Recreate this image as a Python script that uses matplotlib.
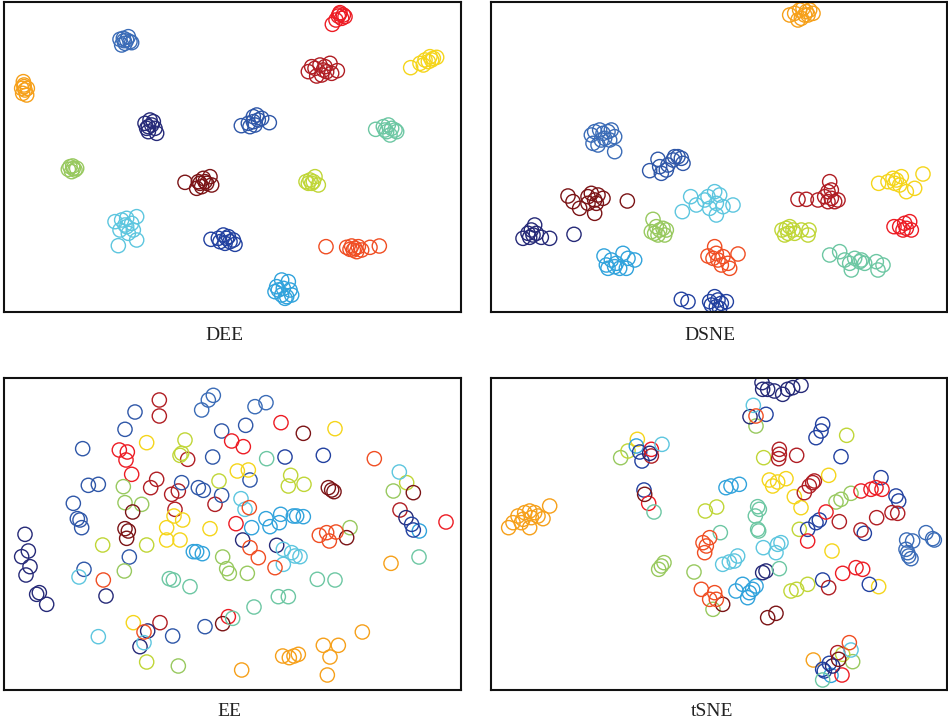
import matplotlib
matplotlib.use("Agg")
import matplotlib.pyplot as plt

# cluster colours (15 classes)
colors = {
    "red": "#ED1C24", "steel": "#3B6CB7", "crimson": "#B01E24", "yellow": "#F5D51B",
    "orange": "#F6A01A", "navy": "#262A78", "blue": "#2F57A8", "teal": "#6DC7A3",
    "lgreen": "#98C95F", "maroon": "#7B1416", "ygreen": "#C0D637", "cyan": "#5DC6DF",
    "royal": "#2241A0", "ored": "#F04E23", "sky": "#31A3DC",
}

# embedding coordinates (arbitrary units, y downwards)
dee = [
    ("red", [(1020, 38), (1030, 45), (1015, 48), (1025, 55), (1008, 60), (997, 73), (1018, 42), (1035, 50)]),
    ("steel", [(370, 115), (380, 120), (360, 118), (390, 125), (375, 130), (365, 135), (385, 110), (395, 128), (372, 122)]),
    ("crimson", [(925, 215), (945, 205), (960, 195), (975, 200), (990, 190), (1012, 212), (965, 225), (950, 228),
                 (980, 215), (935, 200), (970, 210), (995, 220)]),
    ("yellow", [(1232, 203), (1260, 190), (1275, 180), (1290, 170), (1300, 175), (1310, 172), (1285, 185), (1270, 195), (1295, 180)]),
    ("orange", [(70, 245), (72, 255), (65, 265), (75, 270), (68, 280), (80, 285), (72, 260), (82, 265)]),
    ("navy", [(435, 370), (450, 360), (460, 365), (445, 380), (470, 400), (440, 385), (455, 375), (465, 385), (445, 395)]),
    ("blue", [(724, 377), (745, 370), (760, 350), (770, 345), (775, 360), (765, 375), (808, 368), (750, 380), (785, 355), (760, 365)]),
    ("teal", [(1127, 388), (1150, 380), (1165, 375), (1175, 385), (1185, 390), (1170, 405), (1160, 395), (1190, 395), (1155, 390)]),
    ("lgreen", [(210, 500), (220, 505), (215, 515), (225, 510), (205, 508), (218, 498), (230, 505)]),
    ("maroon", [(555, 547), (595, 545), (610, 535), (620, 550), (630, 530), (605, 560), (590, 565), (635, 555), (615, 545), (600, 550)]),
    ("ygreen", [(918, 545), (930, 540), (945, 530), (935, 550), (955, 555), (940, 545), (925, 550)]),
    ("cyan", [(345, 665), (365, 660), (380, 655), (410, 650), (395, 670), (380, 680), (360, 690), (400, 690),
              (355, 737), (410, 720), (375, 675), (385, 700)]),
    ("royal", [(633, 718), (655, 715), (670, 705), (685, 710), (700, 720), (705, 733), (675, 730), (660, 725), (690, 725), (680, 715)]),
    ("ored", [(978, 740), (1040, 742), (1055, 738), (1065, 745), (1075, 740), (1085, 750), (1110, 742), (1138, 738),
              (1070, 755), (1060, 750), (1050, 748)]),
    ("sky", [(845, 840), (865, 845), (830, 860), (850, 865), (870, 870), (825, 875), (845, 885), (860, 890), (875, 885),
             (855, 895), (835, 870)]),
]

dsne = [
    ("orange", [(905, 45), (920, 40), (935, 30), (945, 25), (955, 35), (965, 30), (975, 40), (940, 55), (930, 60), (950, 45), (960, 45)]),
    ("steel", [(310, 405), (320, 395), (335, 390), (345, 400), (360, 395), (370, 390), (380, 410), (365, 420), (340, 420),
               (315, 430), (330, 435), (380, 455), (350, 415)]),
    ("blue", [(485, 512), (510, 478), (520, 520), (540, 495), (555, 480), (570, 470), (585, 490), (560, 470), (535, 510),
              (515, 500), (580, 475)]),
    ("maroon", [(240, 588), (255, 605), (275, 625), (300, 590), (310, 580), (320, 600), (330, 585), (345, 595), (320, 640),
                (300, 610), (325, 610), (418, 603)]),
    ("navy", [(105, 715), (120, 700), (130, 690), (140, 675), (135, 705), (125, 712), (160, 712), (185, 715), (145, 700), (258, 703)]),
    ("cyan", [(583, 635), (608, 590), (625, 615), (650, 600), (660, 590), (680, 575), (695, 585), (685, 610), (705, 620),
              (685, 645), (735, 615), (665, 625)]),
    ("lgreen", [(495, 658), (490, 695), (505, 680), (515, 690), (525, 685), (535, 690), (510, 705), (500, 700), (530, 705)]),
    ("sky", [(348, 768), (355, 795), (370, 780), (385, 790), (405, 760), (420, 775), (440, 780), (415, 805), (395, 805),
             (360, 805), (380, 800)]),
    ("ored", [(680, 740), (660, 768), (675, 775), (690, 780), (705, 770), (720, 790), (725, 805), (700, 795), (750, 762), (685, 760)]),
    ("royal", [(580, 898), (600, 905), (665, 905), (680, 890), (690, 900), (700, 910), (715, 905), (685, 920), (670, 915), (695, 925)]),
    ("crimson", [(930, 598), (955, 598), (990, 600), (1010, 590), (1020, 575), (1025, 545), (1030, 595), (1040, 605),
                 (1050, 600), (1020, 605), (1030, 570)]),
    ("ygreen", [(882, 690), (895, 685), (905, 680), (915, 690), (920, 700), (900, 700), (940, 690), (963, 690), (960, 705), (890, 705)]),
    ("yellow", [(1172, 550), (1200, 545), (1215, 535), (1225, 540), (1240, 530), (1235, 555), (1255, 575), (1280, 565),
                (1305, 522), (1220, 550)]),
    ("red", [(1218, 680), (1235, 680), (1250, 670), (1265, 665), (1270, 690), (1245, 690), (1255, 685)]),
    ("teal", [(1025, 765), (1055, 755), (1070, 780), (1085, 790), (1100, 775), (1115, 785), (1120, 780), (1130, 790),
              (1090, 810), (1165, 785), (1185, 795), (1170, 810)]),
]

ee = [
    ("crimson", [(478, 72), (478, 120), (563, 250), (470, 310), (452, 335), (515, 355), (535, 345), (645, 385), (525, 400),
                 (480, 740), (1200, 402)]),
    ("blue", [(405, 108), (375, 160), (248, 218), (665, 165), (638, 243), (265, 328), (295, 325), (545, 320), (595, 335),
              (610, 343), (665, 358), (220, 382), (232, 428), (240, 432), (245, 455), (388, 543), (252, 580), (518, 780),
              (615, 752), (737, 148), (750, 312)]),
    ("steel", [(605, 102), (625, 72), (640, 58), (765, 92), (798, 80)]),
    ("yellow", [(440, 200), (522, 420), (548, 432), (500, 455), (500, 492), (540, 492), (630, 458), (400, 740), (712, 285),
                (745, 282), (1005, 158)]),
    ("ygreen", [(555, 192), (545, 232), (540, 238), (657, 315), (308, 507), (440, 507), (440, 858), (872, 298), (865, 330),
                (912, 325), (1220, 320)]),
    ("red", [(358, 222), (382, 228), (378, 252), (395, 295), (695, 195), (708, 443), (843, 140), (730, 212), (685, 722), (1338, 438)]),
    ("lgreen", [(370, 332), (375, 380), (425, 385), (668, 543), (680, 578), (688, 592), (373, 585), (535, 870), (742, 592),
                (1180, 345), (1050, 455)]),
    ("maroon", [(398, 408), (375, 458), (385, 465), (380, 487), (668, 743), (910, 172), (985, 335), (995, 342), (1002, 347),
                (1240, 350), (1040, 485)]),
    ("navy", [(75, 475), (85, 525), (65, 542), (90, 572), (78, 597), (110, 655), (118, 650), (140, 685), (318, 660),
              (443, 765), (420, 812), (1218, 425), (728, 492), (830, 508)]),
    ("sky", [(580, 527), (590, 527), (607, 533), (1258, 465), (755, 455), (798, 428), (810, 452), (838, 440), (842, 415),
             (880, 420), (890, 420), (910, 422)]),
    ("cyan", [(237, 603), (295, 782), (432, 800), (1198, 288), (723, 368), (735, 400), (850, 520), (875, 530), (885, 540),
              (900, 542), (850, 565)]),
    ("ored", [(310, 612), (432, 768), (1123, 248), (748, 395), (750, 515), (775, 545), (825, 575), (958, 478), (980, 470),
              (988, 495), (1008, 468)]),
    ("teal", [(508, 608), (520, 612), (570, 632), (698, 727), (800, 248), (1257, 543), (952, 610), (1005, 612), (835, 662),
              (865, 662), (762, 693)]),
    ("royal", [(855, 243), (970, 238), (1235, 445), (1240, 462)]),
    ("orange", [(1173, 562), (1087, 768), (970, 808), (1015, 808), (990, 843), (848, 840), (868, 845), (882, 840), (895, 835),
                (725, 882), (982, 897)]),
]

tsne = [
    ("orange", [(62, 455), (75, 440), (90, 420), (100, 440), (110, 410), (125, 405), (125, 455), (140, 410), (150, 420),
                (165, 428), (185, 390), (105, 430), (130, 425), (976, 852)]),
    ("lgreen", [(398, 245), (512, 580), (520, 570), (528, 560), (618, 588), (675, 700), (804, 150), (1044, 378), (1059, 370),
                (1089, 352), (1094, 857)]),
    ("ygreen", [(420, 225), (652, 405), (686, 393), (1076, 178), (827, 245), (934, 460), (909, 645), (926, 640), (959, 625),
                (1064, 835)]),
    ("yellow", [(448, 190), (844, 312), (854, 330), (869, 318), (894, 308), (919, 362), (939, 395), (1022, 298), (1032, 525),
                (1172, 632)]),
    ("sky", [(445, 210), (714, 335), (729, 330), (754, 325), (744, 645), (764, 625), (779, 665), (794, 640), (804, 630),
             (784, 650), (1029, 898)]),
    ("royal", [(455, 228), (462, 255), (834, 115), (984, 185), (999, 165), (1004, 145), (1059, 242), (1179, 305), (1224, 360),
               (1232, 375), (984, 440), (994, 432), (959, 460), (1129, 472), (1004, 612), (1144, 625), (1024, 862),
               (1004, 880), (1009, 885), (468, 342)]),
    ("red", [(490, 220), (482, 382), (1119, 345), (1149, 340), (1164, 335), (1182, 340), (1014, 408), (959, 495),
             (1064, 592), (1104, 575), (1124, 580), (1062, 897)]),
    ("crimson", [(490, 240), (874, 220), (874, 235), (872, 248), (926, 238), (949, 350), (964, 330), (974, 320), (979, 315),
                 (1054, 437), (1119, 462), (1166, 425), (1212, 410), (1229, 412), (1022, 635), (1049, 830)]),
    ("navy", [(485, 232), (822, 20), (839, 40), (859, 45), (884, 55), (914, 35), (939, 28), (899, 40), (824, 40), (786, 122),
              (824, 590), (834, 585), (1034, 870)]),
    ("cyan", [(522, 205), (796, 88), (826, 515), (869, 505), (879, 500), (864, 530), (704, 565), (724, 558), (739, 555),
              (749, 540), (1089, 822)]),
    ("maroon", [(470, 355), (704, 685), (839, 725), (864, 712), (1052, 850)]),
    ("teal", [(498, 408), (697, 470), (809, 392), (814, 400), (802, 420), (809, 460), (812, 465), (874, 578), (1004, 912)]),
    ("ored", [(645, 500), (650, 530), (655, 510), (665, 485), (640, 640), (665, 670), (680, 650), (685, 670), (804, 120),
              (1084, 800)]),
    ("steel", [(1256, 492), (1274, 495), (1314, 470), (1334, 488), (1339, 492), (1254, 520), (1262, 540), (1269, 548),
               (1259, 530)]),
]

panels = [
    (dee, "DEE", [3.5, 312.5, 460.5, 2.0], (10.5, 1381.5), (937.5, 6), 224, 335),
    (dsne, "DSNE", [490.5, 312.5, 946.5, 2.0], (7.5, 1375.5), (937.5, 6), 710, 335),
    (ee, "EE", [3.5, 689.5, 460.5, 378.0], (10.5, 1381.5), (940.5, 6), 229, 712),
    (tsne, "tSNE", [490.5, 689.5, 946.5, 378.0], (7.5, 1375.5), (940.5, 6), 712, 712),
]

W, H = 948, 724
fig = plt.figure(figsize=(W / 100, H / 100), dpi=100)

for data, name, box, xl, yl, tx, ty in panels:
    x0, y1, x1, y0 = box
    ax = fig.add_axes([x0 / W, 1 - y1 / H, (x1 - x0) / W, (y1 - y0) / H])
    for cls, pts in data:
        xs = [p[0] for p in pts]
        ys = [p[1] for p in pts]
        ax.scatter(xs, ys, s=105, facecolors="none", edgecolors=colors[cls], linewidths=1.0)
    ax.set_xlim(*xl)
    ax.set_ylim(*yl)
    ax.set_xticks([])
    ax.set_yticks([])
    for sp in ax.spines.values():
        sp.set_linewidth(1.5)
        sp.set_color("#111111")
    fig.text(tx / W, 1 - ty / H, name, ha="center", va="center",
             family=["Liberation Serif", "DejaVu Serif"], fontsize=14, color="#222222")

fig.savefig("out.png", dpi=100)
